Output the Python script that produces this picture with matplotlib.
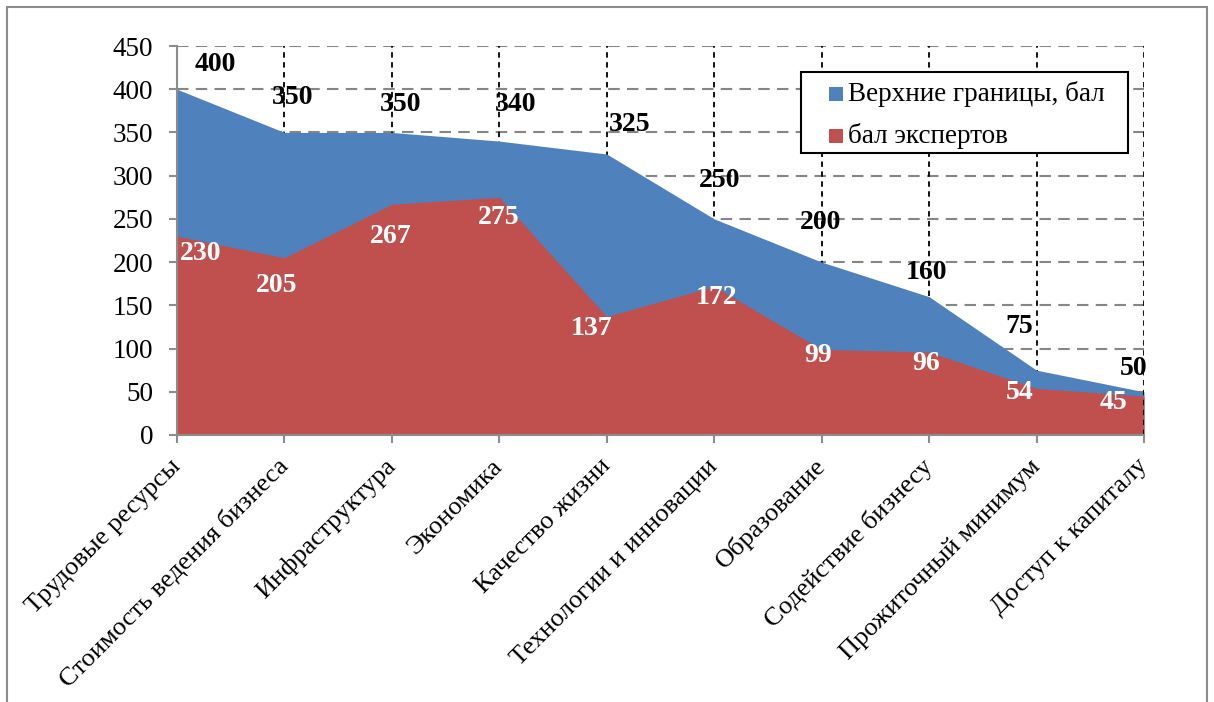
import matplotlib
matplotlib.use("Agg")
import matplotlib.pyplot as plt
from matplotlib.patches import Rectangle
import numpy as np

# Categories and series
categories = [
    "Трудовые ресурсы",
    "Стоимость ведения бизнеса",
    "Инфраструктура",
    "Экономика",
    "Качество жизни",
    "Технологии и инновации",
    "Образование",
    "Содействие бизнесу",
    "Прожиточный минимум",
    "Доступ к капиталу",
]
upper_bounds = [400, 350, 350, 340, 325, 250, 200, 160, 75, 50]
expert_scores = [230, 205, 267, 275, 137, 172, 99, 96, 54, 45]
y_ticks = [0, 50, 100, 150, 200, 250, 300, 350, 400, 450]

series_names = ["Верхние границы, бал", "бал экспертов"]

BLUE = "#4F81BD"
RED = "#C0504D"
GRID_GRAY = "#868686"
AXIS_GRAY = "#8C8C8C"

plt.rcParams["font.family"] = ["Liberation Serif", "DejaVu Serif"]

W, H = 1214, 702
fig = plt.figure(figsize=(W / 100, H / 100), dpi=100)
ax = fig.add_axes([177 / W, 1 - 435 / H, (1144 - 177) / W, (435 - 46) / H])

x = np.arange(len(categories))

# Gridlines (behind the areas)
for yv in y_ticks[1:]:
    ax.axhline(yv, color=GRID_GRAY, lw=1.5, ls=(0, (5.5, 3.5)), zorder=0.5)
for xv in x[1:-1]:
    ax.axvline(xv, color="black", lw=1.3, ls=(0, (3, 2.5)), zorder=0.6)

# Areas
ax.fill_between(x, 0, upper_bounds, color=BLUE, lw=0, zorder=1)
ax.fill_between(x, 0, expert_scores, color=RED, lw=0, zorder=2)

# Right edge dashed line drawn over the areas
ax.axvline(x[-1], color="black", lw=1.3, ls=(0, (3, 2.5)), zorder=3)

ax.set_xlim(0, len(categories) - 1)
ax.set_ylim(0, 450)
ax.set_yticks(y_ticks)
ax.set_xticks(x)
ax.set_xticklabels(categories, rotation=45, ha="right", va="center",
                   rotation_mode="anchor", fontsize=19)
ax.tick_params(axis="x", length=6, width=1.5, color=AXIS_GRAY, pad=14)
ax.tick_params(axis="y", length=6, width=1.5, color=AXIS_GRAY, pad=11, labelsize=19.5)

for side in ("top", "right"):
    ax.spines[side].set_visible(False)
for side in ("left", "bottom"):
    ax.spines[side].set_color(AXIS_GRAY)
    ax.spines[side].set_linewidth(1.5)
    ax.spines[side].set_zorder(4)

# Value labels, nudged away from the area edges
upper_offsets = [(38, 25), (8, 35), (9, 28), (16, 37), (23, 30),
                 (5, 38), (-1, 40), (-3, 24), (-17, 44), (-10, 23)]
lower_offsets = [(24, -17), (-8, -28), (-1, -32), (-1, -20), (-15, -12),
                 (2, -11), (-4, -6), (-3, -11), (-17, -4), (-31, -6)]

for xi, v, off in zip(x, upper_bounds, upper_offsets):
    ax.annotate(f"{v}", (xi, v), xytext=off, textcoords="offset pixels",
                ha="center", va="center", fontsize=20, fontweight="bold",
                color="black", zorder=5, annotation_clip=False)
for xi, v, off in zip(x, expert_scores, lower_offsets):
    ax.annotate(f"{v}", (xi, v), xytext=off, textcoords="offset pixels",
                ha="center", va="center", fontsize=20, fontweight="bold",
                color="white", zorder=5, annotation_clip=False)

# Legend box: frame, colour squares and series names
def px(xp, yp):
    return (xp / W, 1 - yp / H)

fig.patches.append(Rectangle(px(801, 153), (1128 - 801) / W, (153 - 72) / H,
                             transform=fig.transFigure, facecolor="white",
                             edgecolor="black", lw=1.5, zorder=6))
for name, color, yrow in zip(series_names, [BLUE, RED], [94, 136]):
    fig.patches.append(Rectangle(px(829, yrow + 7), 14 / W, 14 / H,
                                 transform=fig.transFigure, facecolor=color,
                                 edgecolor="none", zorder=7))
    fig.text(*px(848, yrow), name, fontsize=19.5, ha="left", va="center",
             zorder=8)

# Outer chart border
fig.patches.append(Rectangle((7 / W, -0.05), 1200 / W, 1.05 - 7 / H,
                             transform=fig.transFigure, fill=False,
                             edgecolor=AXIS_GRAY, lw=1.5))

fig.savefig("out.png", dpi=100)
